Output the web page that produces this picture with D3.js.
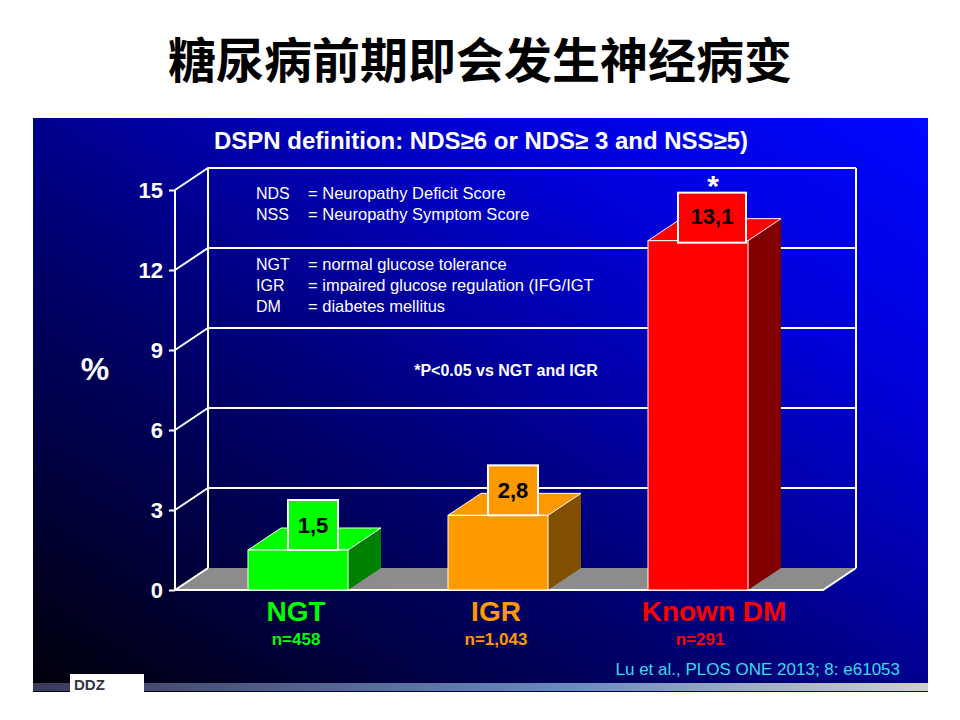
<!DOCTYPE html>
<html><head><meta charset="utf-8">
<script src="https://cdn.jsdelivr.net/npm/d3@7"></script>
<style>body{margin:0;background:#fff}svg{display:block}</style>
</head><body>
<svg id="c" width="960" height="720"></svg>
<script>
const categories = ["NGT", "IGR", "Known DM"];
const values = [1.5, 2.8, 13.1];
const valueLabels = ["1,5", "2,8", "13,1"];
const nLabels = ["n=458", "n=1,043", "n=291"];
const yTicks = [0, 3, 6, 9, 12, 15];
const fronts = ["#00ff00", "#ff9900", "#ff0000"];
const sides = ["#008000", "#805000", "#800000"];

const svg = d3.select("#c");
const defs = svg.append("defs");
const bg = defs.append("linearGradient").attr("id", "bg")
  .attr("x1", "0").attr("y1", "1").attr("x2", "1").attr("y2", "0");
bg.append("stop").attr("offset", "0").attr("stop-color", "#000008");
bg.append("stop").attr("offset", "0.4").attr("stop-color", "#000070");
bg.append("stop").attr("offset", "0.75").attr("stop-color", "#0000d8");
bg.append("stop").attr("offset", "1").attr("stop-color", "#0008ff");
const strip = defs.append("linearGradient").attr("id", "strip");
strip.append("stop").attr("offset", "0").attr("stop-color", "#3a3a5a");
strip.append("stop").attr("offset", "0.6").attr("stop-color", "#6a8ac0");
strip.append("stop").attr("offset", "1").attr("stop-color", "#d0d0c8");

svg.append("text").attr("x", 480).attr("y", 78).attr("text-anchor", "middle")
  .attr("font-family", "Noto Sans CJK SC").attr("font-weight", "bold").attr("font-size", 48)
  .text("糖尿病前期即会发生神经病变");

svg.append("rect").attr("x", 33).attr("y", 118).attr("width", 895).attr("height", 574).attr("fill", "url(#bg)");
svg.append("rect").attr("x", 33).attr("y", 683).attr("width", 895).attr("height", 8).attr("fill", "url(#strip)");
svg.append("rect").attr("x", 70).attr("y", 674).attr("width", 74).attr("height", 24).attr("fill", "#fff");
svg.append("text").attr("x", 74).attr("y", 690).attr("font-family", "Liberation Sans").attr("font-weight", "bold")
  .attr("font-size", 15).attr("fill", "#334").text("DDZ");

const font = "Liberation Sans, Arial, sans-serif";
const y = d3.scaleLinear().domain([0, 15]).range([590, 190]);
const x = d3.scaleBand().domain(categories).range([198, 798]).paddingInner(0.5).paddingOuter(0.25);
const dx = 33, dy = -22, x0 = 175, x1 = 823;

// floor
svg.append("path").attr("d", `M${x0},${y(0)}L${x1},${y(0)}L${x1 + dx},${y(0) + dy}L${x0 + dx},${y(0) + dy}Z`)
  .attr("fill", "#8c8c8c");
svg.append("path").attr("d", `M${x0 + dx},${y(0) + dy}L${x0 + dx},${y(15) + dy}M${x1 + dx},${y(0) + dy}L${x1 + dx},${y(15) + dy}`)
  .attr("stroke", "#fff").attr("stroke-width", 2);
const grid = svg.append("g").attr("stroke", "#fff").attr("stroke-width", 2).attr("fill", "none");
yTicks.forEach(t => {
  grid.append("path").attr("d", `M${x0},${y(t)}L${x0 + dx},${y(t) + dy}` + (t > 0 ? `L${x1 + dx},${y(t) + dy}` : ""));
});
svg.append("path").attr("d", `M${x0},${y(0)}L${x1},${y(0)}L${x1 + dx},${y(0) + dy}`)
  .attr("stroke", "#fff").attr("stroke-width", 2).attr("fill", "none");
svg.append("path").attr("d", `M${x0},${y(0)}L${x0},${y(15)}`).attr("stroke", "#fff").attr("stroke-width", 2);

const axis = svg.append("g").attr("transform", `translate(${x0},0)`)
  .call(d3.axisLeft(y).tickValues(yTicks).tickSize(6).tickPadding(6));
axis.select(".domain").remove();
axis.selectAll("line").attr("stroke", "#fff").attr("stroke-width", 2);
axis.selectAll("text").attr("fill", "#fff").attr("font-family", font).attr("font-weight", "bold").attr("font-size", 22);

svg.append("text").attr("x", 95).attr("y", 380).attr("text-anchor", "middle").attr("fill", "#fff")
  .attr("font-family", font).attr("font-weight", "bold").attr("font-size", 32).text("%");

const legend = [["NDS", "= Neuropathy Deficit Score", 199], ["NSS", "= Neuropathy Symptom Score", 220],
  ["NGT", "= normal glucose tolerance", 270], ["IGR", "= impaired glucose regulation (IFG/IGT", 291],
  ["DM", "= diabetes mellitus", 312]];
legend.forEach(d => {
  svg.append("text").attr("x", 256).attr("y", d[2]).attr("fill", "#fff").attr("font-family", font).attr("font-size", 16).text(d[0]);
  svg.append("text").attr("x", 308).attr("y", d[2]).attr("fill", "#fff").attr("font-family", font).attr("font-size", 16.5).text(d[1]);
});
svg.append("text").attr("x", 506).attr("y", 376).attr("text-anchor", "middle").attr("fill", "#fff")
  .attr("font-family", font).attr("font-weight", "bold").attr("font-size", 16).text("*P<0.05 vs NGT and IGR");
svg.append("text").attr("x", 481).attr("y", 149).attr("text-anchor", "middle").attr("fill", "#fff")
  .attr("font-family", font).attr("font-weight", "bold").attr("font-size", 24).text("DSPN definition: NDS≥6 or NDS≥ 3 and NSS≥5)");

const bars = svg.selectAll("g.bar").data(values).enter().append("g");
bars.each(function (v, i) {
  const g = d3.select(this), bx = x(categories[i]), w = x.bandwidth(), top = y(v), b = y(0);
  g.append("path").attr("d", `M${bx + w},${b}L${bx + w + dx},${b + dy}L${bx + w + dx},${top + dy}L${bx + w},${top}Z`).attr("fill", sides[i]);
  g.append("path").attr("d", `M${bx},${top}L${bx + dx},${top + dy}L${bx + w + dx},${top + dy}L${bx + w},${top}Z`)
    .attr("fill", fronts[i]).attr("stroke", "#fff").attr("stroke-width", 1);
  g.append("rect").attr("x", bx).attr("y", top).attr("width", w).attr("height", b - top)
    .attr("fill", fronts[i]).attr("stroke", "#fff").attr("stroke-width", 1);
  const bw = i === 2 ? 68 : 50;
  const lx = bx + (i === 2 ? 30 : 40);
  g.append("rect").attr("x", lx).attr("y", top - 50 + (i === 2 ? 2 : 0)).attr("width", bw).attr("height", 50)
    .attr("fill", fronts[i]).attr("stroke", "#fff").attr("stroke-width", 2);
  g.append("text").attr("x", lx + bw / 2).attr("y", top - 17).attr("text-anchor", "middle")
    .attr("font-family", font).attr("font-weight", "bold").attr("font-size", 22).text(valueLabels[i]);
  const cx = i === 2 ? bx + 66 : bx + w / 2 - 2;
  g.append("text").attr("x", cx).attr("y", 621).attr("text-anchor", "middle").attr("fill", fronts[i])
    .attr("font-family", font).attr("font-weight", "bold").attr("font-size", 28).text(categories[i]);
  g.append("text").attr("x", i === 2 ? bx + 52 : cx).attr("y", 645).attr("text-anchor", "middle").attr("fill", fronts[i])
    .attr("font-family", font).attr("font-weight", "bold").attr("font-size", 17).text(nLabels[i]);
  if (i === 2) g.append("text").attr("x", bx + 65).attr("y", 196).attr("text-anchor", "middle").attr("fill", "#fff")
    .attr("font-family", font).attr("font-weight", "bold").attr("font-size", 30).text("*");
});

svg.append("text").attr("x", 900).attr("y", 675).attr("text-anchor", "end").attr("fill", "#33ddee")
  .attr("font-family", font).attr("font-size", 17).text("Lu et al., PLOS ONE 2013; 8: e61053");
</script>
</body></html>
